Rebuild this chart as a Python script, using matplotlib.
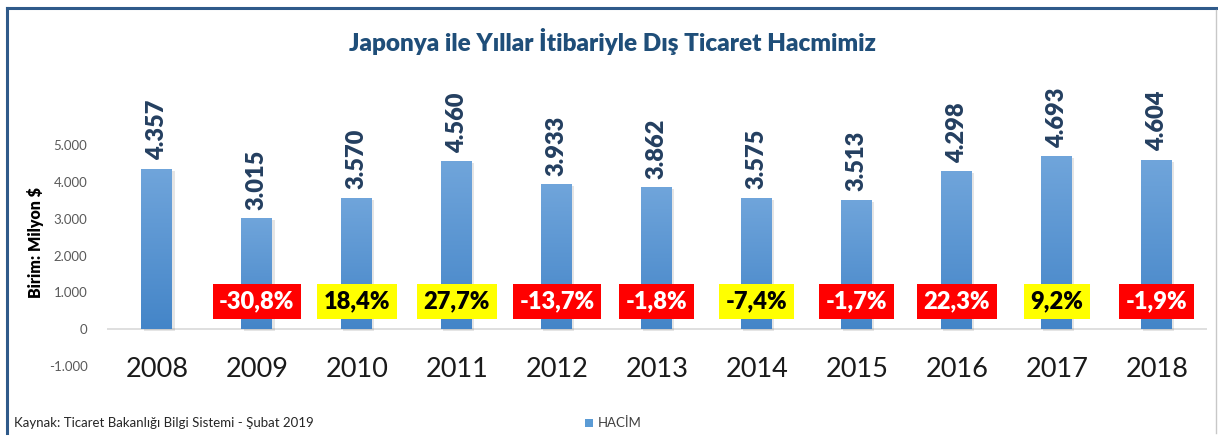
import numpy as np
import matplotlib
matplotlib.use('Agg')
import matplotlib.pyplot as plt
from matplotlib import patheffects
from matplotlib.colors import LinearSegmentedColormap
from matplotlib.lines import Line2D

###############################################################################
# Data
years = ['2008', '2009', '2010', '2011', '2012', '2013', '2014', '2015', '2016', '2017', '2018']
volume = [4357, 3015, 3570, 4560, 3933, 3862, 3575, 3513, 4298, 4693, 4604]
value_labels = ['4.357', '3.015', '3.570', '4.560', '3.933', '3.862', '3.575', '3.513', '4.298', '4.693', '4.604']
change_labels = ['-30,8%', '18,4%', '27,7%', '-13,7%', '-1,8%', '-7,4%', '-1,7%', '22,3%', '9,2%', '-1,9%']
change_colors = ['red', 'yellow', 'yellow', 'red', 'red', 'yellow', 'red', 'red', 'yellow', 'red']
yticks = [-1000, 0, 1000, 2000, 3000, 4000, 5000]
ytick_labels = ['-1.000', '0', '1.000', '2.000', '3.000', '4.000', '5.000']

plt.rcParams['font.family'] = ['Lato', 'DejaVu Sans']

###############################################################################
# Plot
fig = plt.figure(figsize=(12.18, 4.37), dpi=100)
ax = fig.add_axes([0.0878, 0.1625, 0.903, 0.674])

x = np.arange(len(years))
bars = ax.bar(x, volume, width=0.31, color='#5B9BD5', zorder=2)

# gradient fill + soft shadow
cmap = LinearSegmentedColormap.from_list('blu', ['#4485C8', '#70A5DB'])
grad = np.linspace(0, 1, 256).reshape(-1, 1)
for b in bars:
    b.set_path_effects([patheffects.SimplePatchShadow(offset=(1.5, -1.5), alpha=0.15, shadow_rgbFace='#555555'),
                        patheffects.Normal()])
    im = ax.imshow(grad, cmap=cmap, aspect='auto', origin='lower',
                   extent=[b.get_x(), b.get_x() + b.get_width(), 0, b.get_height()], zorder=3)
    im.set_clip_path(b)

ax.axhline(0, color='#D9D9D9', lw=1.2, zorder=1)
ax.set_xlim(-0.5, len(years) - 0.5)
ax.set_ylim(-1000, 7000)
ax.set_yticks(yticks)
ax.set_yticklabels(ytick_labels, fontsize=9.5, color='#595959')
ax.set_xticks([])
ax.tick_params(axis='y', length=0, pad=14)
for s in ax.spines.values():
    s.set_visible(False)
ax.set_ylabel('Birim: Milyon $', fontsize=11.5, fontweight='heavy')
ax.yaxis.set_label_coords(-0.057, 0.42)

# value labels on top of bars
for xi, v, lab in zip(x, volume, value_labels):
    ax.annotate(lab, (xi, v), xytext=(0, 6), textcoords='offset points', rotation=90,
                ha='center', va='bottom', fontsize=17, fontweight='heavy', color='#243F60')

# year labels
for xi, y in zip(x, years):
    ax.text(xi, -1100, y, ha='center', va='center', fontsize=19.5, color='#1A1A1A')

# yearly change boxes
for xi, lab, c in zip(x[1:], change_labels, change_colors):
    if c == 'red':
        fc, tc = '#FF0000', 'white'
    else:
        fc, tc = '#FFFF00', 'black'
    ax.text(xi, 750, lab, ha='center', va='center', fontsize=17, fontweight='heavy', color=tc, zorder=5,
            bbox=dict(boxstyle='square,pad=0.28', fc=fc, ec='none'))

fig.text(0.5025, 0.906, 'Japonya ile Yıllar İtibariyle Dış Ticaret Hacmimiz', ha='center', va='center',
         fontsize=17.5, fontweight='heavy', color='#1F4E79')
fig.text(14 / 1218, 1 - 423 / 437, 'Kaynak: Ticaret Bakanlığı Bilgi Sistemi - Şubat 2019', ha='left', va='center',
         fontsize=9.5, color='#262626')
fig.patches.append(plt.Rectangle((585 / 1218, 1 - 427 / 437), 8 / 1218, 8 / 437, transform=fig.transFigure,
                                 fc='#5B9BD5', ec='none'))
fig.text(598 / 1218, 1 - 423 / 437, 'HACİM', ha='left', va='center', fontsize=9.5, color='#404040')

# frame
fig.add_artist(Line2D([7 / 1218, 1], [1 - 8 / 437, 1 - 8 / 437], transform=fig.transFigure, color='#2F5A8A', lw=2.2))
fig.add_artist(Line2D([7 / 1218, 7 / 1218], [0.01, 1 - 8 / 437], transform=fig.transFigure, color='#2F5A8A', lw=2.2))
fig.add_artist(Line2D([1216 / 1218, 1216 / 1218], [0.01, 1 - 10 / 437], transform=fig.transFigure, color='#C8C8C8', lw=1))

plt.savefig('out.png', dpi=100)
